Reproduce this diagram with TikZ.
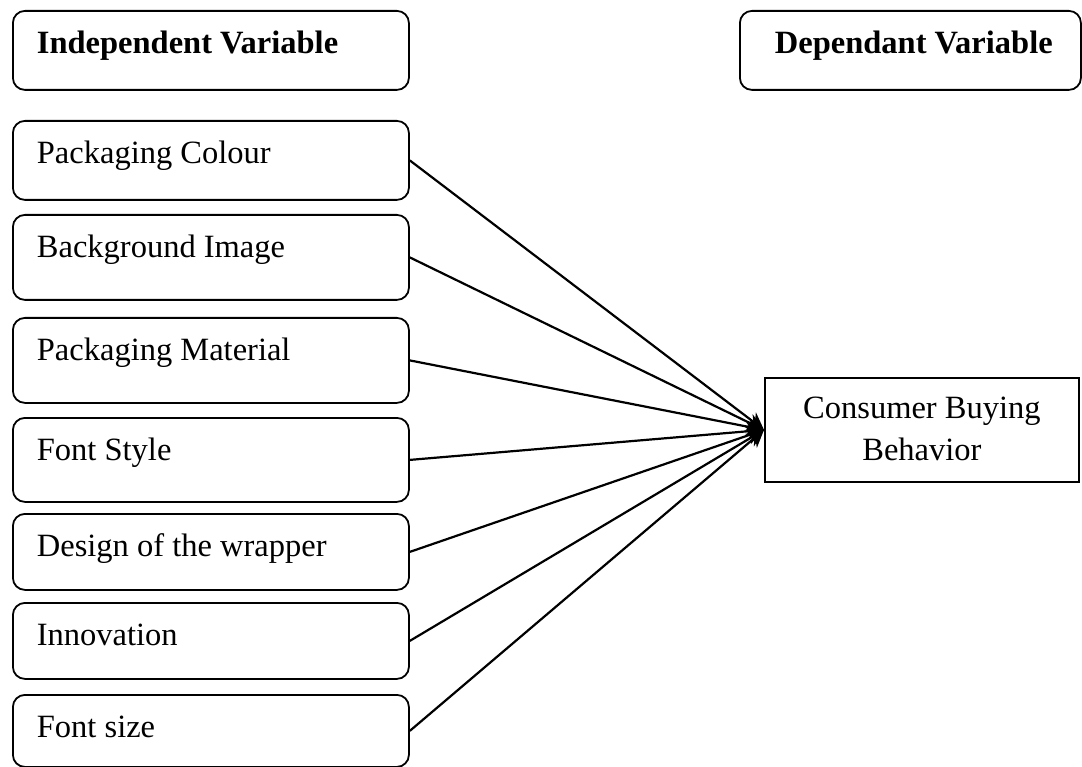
\documentclass[tikz,border=0pt]{standalone}
\usepackage{fontspec}
\setmainfont{Liberation Serif}
\usetikzlibrary{arrows.meta}
\usetikzlibrary{positioning}
\begin{document}
\begin{tikzpicture}[x=1pt,y=-1pt,every node/.style={font=\fontsize{32.5}{42}\selectfont,inner sep=0pt,line width=1.8pt},
  var/.style={draw,rounded corners=12pt,anchor=north west,minimum width=396pt,text width=348pt,align=flush left,text height=43pt,text depth=#1},
  head/.style={var=#1,font=\fontsize{32.5}{42}\selectfont\bfseries},
  link/.style={line width=2.2pt,-{Stealth[length=17pt,width=18pt]}}]
\useasboundingbox (0,0) rectangle (1082,767);
\node[head=36pt] (indep) at (12,10) {Independent Variable};
\node[head=36pt,minimum width=341pt,text width=271pt] (dep) at (739,10) {\mbox{Dependant Variable}};
\node[var=36pt] (colour) at (12,120) {Packaging Colour};
\node[var=42pt] (backimg) at (12,214) {Background Image};
\node[var=42pt] (material) at (12,317) {Packaging Material};
\node[var=41pt] (fontstyle) at (12,417) {Font Style};
\node[var=33pt] (wrapper) at (12,513) {Design of the wrapper};
\node[var=33pt] (innov) at (12,602) {Innovation};
\node[var=29pt] (fontsize) at (12,694) {Font size};
\node[draw,anchor=north west,minimum width=314pt,align=center,text height=83pt,text depth=21pt] (cbb) at (764,377) {Consumer Buying\\Behavior};
\foreach \v in {colour,backimg,material,fontstyle,wrapper,innov,fontsize}
  \draw[link] (\v.east) -- (cbb.west);
\end{tikzpicture}
\end{document}
